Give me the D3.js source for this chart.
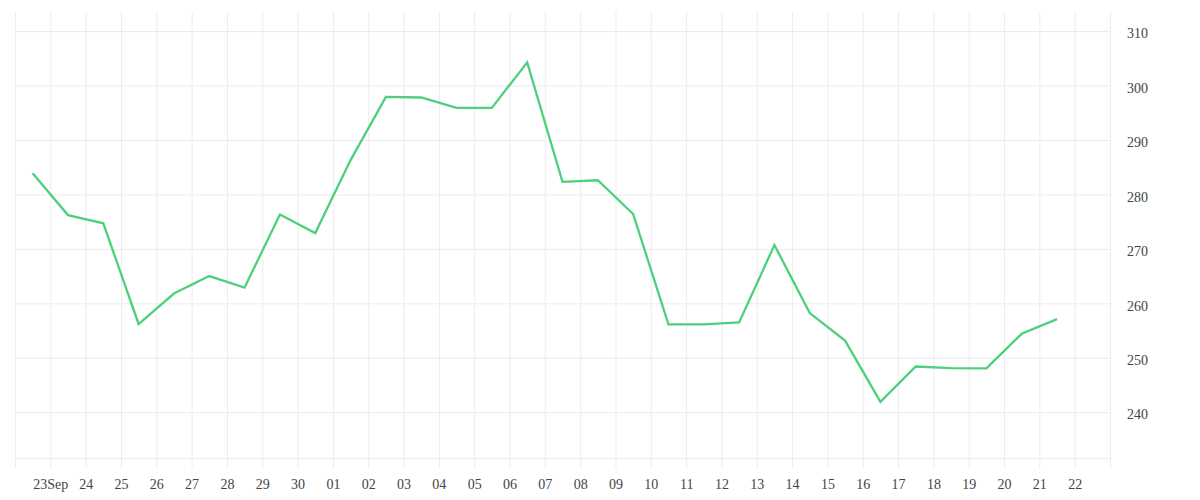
<!DOCTYPE html>
<html>
<head>
<meta charset="utf-8">
<script src="https://cdn.jsdelivr.net/npm/d3@7"></script>
<style>
  html, body { margin: 0; padding: 0; background: #ffffff; }
  svg { display: block; }
</style>
</head>
<body>
<svg id="chart" width="1200" height="500"></svg>
<script>
// ---- data ----
const dates = [
  "2023-09-22","2023-09-23","2023-09-24","2023-09-25","2023-09-26","2023-09-27",
  "2023-09-28","2023-09-29","2023-09-30","2023-10-01","2023-10-02","2023-10-03",
  "2023-10-04","2023-10-05","2023-10-06","2023-10-07","2023-10-08","2023-10-09",
  "2023-10-10","2023-10-11","2023-10-12","2023-10-13","2023-10-14","2023-10-15",
  "2023-10-16","2023-10-17","2023-10-18","2023-10-19","2023-10-20","2023-10-21"
];
const values = [
  283.9, 276.2, 274.7, 256.2, 261.8, 265.0,
  262.9, 276.3, 272.9, 286.3, 297.9, 297.8,
  295.9, 295.9, 304.25, 282.3, 282.6, 276.4,
  256.15, 256.15, 256.5, 270.7, 258.2, 253.15,
  241.9, 248.4, 248.1, 248.05, 254.4, 257.1
];
const yTickValues = [240, 250, 260, 270, 280, 290, 300, 310];
const xDomainDates = ["2023-09-22", "2023-10-23"];
const yDomain = [231.5, 313.5];

(function () {
  // ---- layout ----
  const svg = d3.select("#chart");
  const pLeft = 15, pRight = 1110, pTop = 12, pBottom = 458.5, tickExt = 10;
  const parse = d3.utcParse("%Y-%m-%d");

  const x = d3.scaleUtc()
    .domain(xDomainDates.map(parse))
    .range([pLeft, pRight]);
  const y = d3.scaleLinear().domain(yDomain).range([pBottom, pTop]);

  const gridColor = "#ececec";
  const textColor = "#444444";
  const fontFamily = "'Liberation Serif', 'Times New Roman', serif";

  // horizontal gridlines + right labels
  const yAxis = d3.axisRight(y)
    .tickValues(yTickValues)
    .tickSize(-(pRight - pLeft))
    .tickPadding(17)
    .tickFormat(d3.format("d"));
  const gy = svg.append("g")
    .attr("transform", `translate(${pRight},0)`)
    .call(yAxis);
  gy.select(".domain").remove();
  gy.selectAll(".tick line").attr("stroke", gridColor).attr("stroke-width", 1);
  gy.selectAll(".tick text")
    .attr("fill", textColor)
    .attr("font-family", fontFamily)
    .attr("font-size", 14)
    .attr("dy", "0.48em");

  // bottom baseline
  svg.append("line")
    .attr("x1", x.range()[0]).attr("x2", x.range()[1])
    .attr("y1", y(yDomain[0])).attr("y2", y(yDomain[0]))
    .attr("stroke", gridColor).attr("stroke-width", 1);

  // vertical gridlines + day labels
  const dayTicks = d3.utcDay.range(x.domain()[0], d3.utcDay.offset(x.domain()[1], 1));
  const firstLabel = d3.utcDay.offset(x.domain()[0], 1);
  const lastLabel = d3.utcDay.offset(x.domain()[1], -1);
  const fmtDay = d3.utcFormat("%d");
  const fmtDayMon = d3.utcFormat("%d%b");
  const xAxis = d3.axisBottom(x)
    .tickValues(dayTicks)
    .tickSize(-(pBottom + tickExt - pTop))
    .tickFormat(d => {
      if (d < firstLabel || d > lastLabel) return "";
      return +d === +firstLabel ? fmtDayMon(d) : fmtDay(d);
    });
  const gx = svg.append("g")
    .attr("transform", `translate(0,${pBottom + tickExt})`)
    .call(xAxis);
  gx.select(".domain").remove();
  gx.selectAll(".tick line").attr("stroke", gridColor).attr("stroke-width", 1);
  gx.selectAll(".tick text")
    .attr("fill", textColor)
    .attr("font-family", fontFamily)
    .attr("font-size", 14)
    .attr("y", 20)
    .attr("dy", null);

  // line
  const points = dates.map((d, i) => ({ t: d3.utcHour.offset(parse(d), 12), v: values[i] }));
  const line = d3.line().x(d => x(d.t)).y(d => y(d.v));
  svg.append("path")
    .datum(points)
    .attr("fill", "none")
    .attr("stroke", "#4cd07c")
    .attr("stroke-width", 2.3)
    .attr("stroke-linejoin", "miter")
    .attr("d", line);
})();
</script>
</body>
</html>
